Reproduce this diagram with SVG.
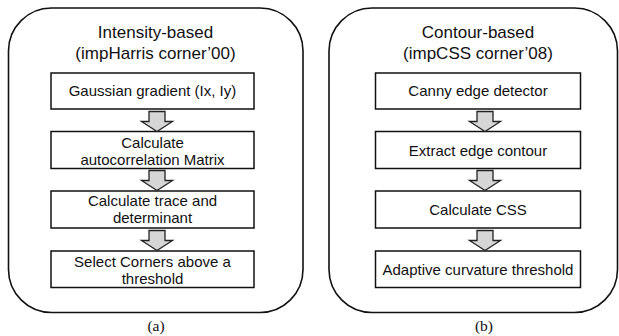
<svg xmlns="http://www.w3.org/2000/svg" width="619" height="336" viewBox="0 0 619 336">
<style>
.panel{fill:#fff;stroke:#111;stroke-width:1.6}
.box{fill:#fff;stroke:#111;stroke-width:1.5}
.arrow{fill:#d6d6d6;stroke:#222;stroke-width:1.3;stroke-linejoin:miter}
.title{font-family:"Liberation Sans",Arial,sans-serif;font-size:17px;fill:#111;text-anchor:middle}
.t{font-family:"Liberation Sans",Arial,sans-serif;font-size:15px;fill:#111;text-anchor:middle}
.cap{font-family:"Liberation Serif","Times New Roman",serif;font-size:15.5px;fill:#111;text-anchor:middle}
</style>
<defs>
<path id="arr" class="arrow" d="M-8,0 H8 V10 H15.5 L0,20 L-15.5,10 H-8 Z"/>
</defs>
<rect width="619" height="336" fill="#fff"/>
<g id="panelA">
<rect class="panel" x="8.5" y="8" width="294.5" height="304.5" rx="43" ry="43"/>
<text class="title" x="155.5" y="38">Intensity-based</text>
<text class="title" x="155.5" y="59">(impHarris corner’00)</text>
</g>
<g id="panelB">
<rect class="panel" x="329" y="8" width="288.5" height="304.5" rx="43" ry="43"/>
<text class="title" x="478" y="38">Contour-based</text>
<text class="title" x="478" y="59">(impCSS corner’08)</text>
</g>
<g id="a1"><rect class="box" x="51" y="73" width="203" height="36"/><text class="t" x="152.5" y="96">Gaussian gradient (Ix, Iy)</text></g>
<g id="a2"><rect class="box" x="51" y="131.5" width="203" height="37"/><text class="t" x="152.5" y="148">Calculate</text><text class="t" x="152.5" y="165">autocorrelation Matrix</text></g>
<g id="a3"><rect class="box" x="51" y="191" width="203" height="37"/><text class="t" x="152.5" y="206">Calculate trace and</text><text class="t" x="152.5" y="223">determinant</text></g>
<g id="a4"><rect class="box" x="51" y="251" width="203" height="36.5"/><text class="t" x="152.5" y="267">Select Corners above a</text><text class="t" x="152.5" y="284">threshold</text></g>
<g id="b1"><rect class="box" x="375.5" y="73" width="205" height="36"/><text class="t" x="478" y="96">Canny edge detector</text></g>
<g id="b2"><rect class="box" x="375.5" y="131.5" width="205" height="37"/><text class="t" x="478" y="155.5">Extract edge contour</text></g>
<g id="b3"><rect class="box" x="375.5" y="191" width="205" height="37"/><text class="t" x="478" y="215">Calculate CSS</text></g>
<g id="b4"><rect class="box" x="375.5" y="251" width="205" height="36.5"/><text class="t" x="478" y="275">Adaptive curvature threshold</text></g>
<g id="connectors">
<use href="#arr" x="157" y="111.5"/>
<use href="#arr" x="157" y="170.5"/>
<use href="#arr" x="157" y="230.5"/>
<use href="#arr" x="485" y="111.5"/>
<use href="#arr" x="485" y="170.5"/>
<use href="#arr" x="485" y="230.5"/>
</g>
<text class="cap" x="156" y="331">(a)</text>
<text class="cap" x="484" y="331">(b)</text>
</svg>
